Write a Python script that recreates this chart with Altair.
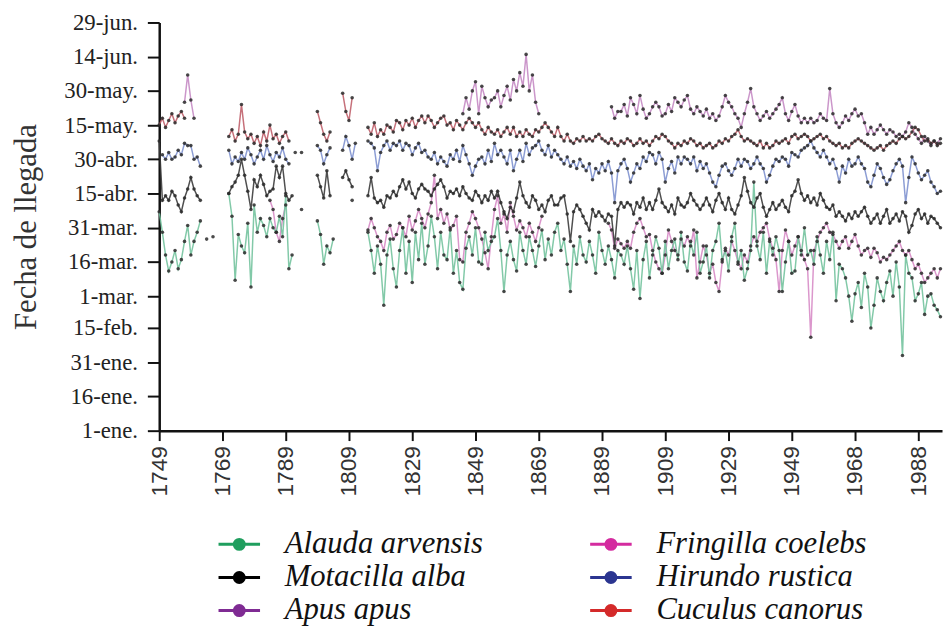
import altair as alt
import pandas as pd

# ---------------- data (day of year of first arrival) ----------------
ORDER = ["Alauda arvensis", "Motacilla alba", "Apus apus",
         "Fringilla coelebs", "Hirundo rustica", "Cuculus canorus"]

alauda = [
    (1749, [97, 88, 78, 71, 75, 80, 72, 76, 84, 91, 78, 84, 88, 93]),
    (1764, [85]),
    (1766, [86]),
    (1771, [105, 95, 67, 87, 82, 79, 92, 64, 100, 88, 94, 91, 86, 94, 90, 88, 95, 86, 104, 72, 78]),
    (1799, [93, 87, 74, 82, 79, 85]),
    (1810, [102]),
    (1815, [88, 80, 70, 82, 74, 56, 78, 85, 72, 64,
            80, 90, 70, 84, 66, 88, 76, 92, 74, 82,
            95, 86, 72, 88, 78, 76, 90, 70, 80, 66,
            63, 81, 86, 78, 90, 75, 74, 88, 80, 84,
            86, 94, 80, 62, 78, 84, 76, 71, 88, 80,
            74, 86, 80, 73, 82, 89, 76, 85, 78, 88,
            92, 80, 85, 74, 62, 82, 74, 86, 78, 75,
            84, 78, 70, 88, 80, 74, 82, 76, 68, 80,
            78, 74, 82, 72, 63, 80, 59, 76, 84, 68,
            78, 86, 81, 70, 84, 72, 80, 85, 76, 88,
            75, 71, 84, 78, 88, 70, 75, 82, 68, 80,
            84, 92, 76, 80, 71, 86, 92, 74, 80, 67,
            72, 80, 110, 82, 76, 88, 70, 84, 78, 86,
            80, 62, 75, 84, 70, 71, 86, 78, 90, 78,
            80, 74, 86, 78, 70, 84, 76, 88, 58, 74,
            72, 68, 60, 49, 61, 66, 55, 70, 64, 46,
            56, 68, 62, 58, 66, 71, 60, 75, 64, 34,
            78, 70, 68, 58, 61, 66, 52, 60, 61, 56, 54, 51]),
]

motacilla = [
    (1749, [128, 102, 104, 102, 106, 104, 100, 97, 103, 107, 112, 107, 104, 102]),
    (1771, [105, 108, 110, 113, 120, 113, 106, 98, 111, 108, 113, 109, 104, 106, 107, 117, 112, 117, 105, 102, 104]),
    (1794, [98]),
    (1799, [113, 108, 103, 115, 104]),
    (1807, [112, 115, 111, 108]),
    (1815, [104, 112, 103, 101, 102, 99, 104, 103, 106, 104,
            108, 111, 107, 110, 105, 103, 107, 109, 107, 106,
            104, 107, 109, 111, 108, 103, 106, 105, 107, 104,
            108, 105, 103, 102, 106, 104, 101, 104, 102, 106,
            103, 106, 101, 97, 94, 99, 97, 103, 110, 104,
            101, 99, 104, 102, 98, 100, 97, 102, 104, 100,
            100, 103, 104, 96, 84, 97, 100, 98, 95, 92,
            89, 98, 95, 97, 95, 93, 96, 95, 82, 98,
            101, 99, 101, 100, 96, 101, 99, 103, 98, 101,
            98, 102, 107, 101, 99, 97, 100, 96, 103, 100,
            99, 101, 105, 102, 100, 98, 100, 103, 100, 97,
            102, 105, 101, 98, 103, 98, 96, 100, 104, 112,
            106, 101, 99, 103, 105, 99, 95, 98, 101, 98,
            100, 102, 99, 97, 104, 106, 111, 105, 102, 104,
            101, 103, 100, 105, 102, 99, 98, 100, 95, 97,
            95, 93, 96, 94, 97, 95, 97, 99, 95, 92,
            94, 96, 92, 95, 98, 92, 94, 96, 93, 97,
            95, 88, 91, 96, 98, 94, 96, 92, 95, 94, 92, 90]),
]

hirundo = [
    (1750, [122, 120, 123, 120, 121, 124, 122, 127, 126, 126, 120, 121, 117]),
    (1771, [124, 118, 121, 119, 123, 120, 125, 122, 118, 121, 124, 120, 126, 122, 119, 123, 121, 125, 120, 118]),
    (1792, [123]),
    (1794, [123]),
    (1799, [126, 124, 118, 122, 125]),
    (1807, [124, 130, 126, 120, 127]),
    (1815, [128, 127, 125, 115, 123, 126, 128, 124, 127, 126,
            128, 124, 127, 126, 122, 125, 127, 123, 124, 121,
            120, 123, 118, 121, 119, 117, 122, 120, 124, 119,
            126, 122, 118, 113, 117, 120, 121, 118, 124, 119,
            127, 122, 124, 121, 118, 124, 115, 120, 124, 119,
            127, 122, 125, 126, 128, 124, 122, 126, 121, 124,
            122, 120, 118, 121, 117, 119, 116, 120, 117, 115,
            118, 111, 116, 114, 118, 115, 119, 114, 101, 115,
            118, 120, 116, 110, 114, 118, 116, 121, 119, 123,
            122, 118, 123, 120, 110, 116, 119, 114, 121, 118,
            121, 120, 118, 121, 115, 119, 116, 118, 114, 110,
            108, 113, 117, 118, 115, 113, 116, 120, 117, 120,
            119, 116, 118, 121, 118, 116, 110, 113, 117, 120,
            119, 121, 120, 117, 123, 122, 121, 124, 125, 126,
            128, 125, 123, 121, 124, 121, 118, 120, 116, 110,
            117, 114, 120, 117, 118, 121, 118, 116, 110, 108,
            113, 118, 116, 112, 109, 111, 115, 118, 120, 117,
            101, 112, 121, 118, 114, 111, 113, 115, 110, 108, 105, 106]),
]

cuculus = [
    (1749, [135, 138, 134, 137, 140, 136, 139, 141, 138]),
    (1771, [130, 133, 128, 131, 144, 132, 129, 131, 127, 130, 126, 132, 128, 135, 129, 131, 127, 130, 132, 128]),
    (1799, [141, 136, 131, 128, 132]),
    (1807, [149, 141, 137, 147]),
    (1815, [134, 131, 136, 130, 133, 131, 135, 134, 132, 137,
            136, 133, 137, 135, 138, 134, 137, 139, 136, 139,
            137, 134, 136, 138, 139, 135, 136, 133, 137, 135,
            133, 136, 138, 136, 134, 136, 133, 131, 134, 132,
            131, 133, 130, 132, 134, 131, 134, 130, 132, 130,
            133, 131, 130, 133, 132, 134, 136, 134, 132, 130,
            134, 130, 128, 131, 128, 127, 129, 128, 130, 128,
            129, 128, 130, 131, 129, 128, 127, 129, 127, 126,
            128, 127, 129, 128, 126, 127, 129, 127, 128, 126,
            128, 130, 129, 131, 130, 128, 127, 125, 127, 126,
            128, 127, 129, 128, 126, 127, 125, 126, 127, 125,
            126, 128, 127, 129, 128, 130, 131, 133, 130, 128,
            129, 128, 127, 126, 128, 125, 127, 125, 126, 128,
            127, 128, 129, 127, 130, 131, 129, 130, 131, 130,
            128, 129, 130, 131, 129, 130, 128, 127, 126, 127,
            125, 126, 125, 127, 128, 129, 128, 127, 126, 125,
            124, 125, 126, 124, 126, 127, 128, 127, 129, 130,
            129, 130, 132, 134, 133, 130, 128, 129, 127, 128, 126, 127]),
]

apus = [
    (1757, [145, 157, 146, 138]),
    (1845, [140, 147, 142, 150, 154, 140, 152, 147, 143, 146,
            147, 150, 143, 148, 152, 146, 155, 150, 158, 152,
            166, 150, 157, 145, 140]),
    (1892, [143, 138, 141,
            141, 144, 139, 147, 144, 140, 148, 142, 138, 140,
            143, 145, 143, 139, 140, 144, 141, 147, 145, 143,
            146, 148, 142, 140, 143, 141, 139, 142, 138, 140,
            137, 139, 143, 148, 145, 143, 140, 138, 134, 140,
            145, 151, 143, 140, 137, 139, 141, 138, 140, 142,
            144, 147, 140, 137, 141, 144, 139, 136, 138, 136,
            138, 136, 137, 140, 138, 137, 151, 140, 136, 134,
            136, 139, 137, 140, 142, 139, 140, 136, 131, 134,
            131, 133, 135, 133, 131, 133, 132, 130, 131, 130,
            132, 136, 134, 131, 129, 127, 130, 128, 126, 128, 127, 129]),
]

fringilla = [
    (1784, [102, 98, 88, 84, 94, 100]),
    (1815, [89, 94, 90, 86, 84, 80, 88, 91, 85, 87,
            92, 90, 86, 95, 89, 93, 98, 94, 90, 96,
            101, 113, 94, 98, 92, 96, 89, 91, 95, 76,
            75, 88, 92, 97, 94, 90, 85, 79, 72, 86,
            98, 104, 92, 96, 88, 101, 95, 89, 93, 90,
            86, 92, 88, 84, 90, 95]),
    (1891, [92, 89, 81, 85, 83, 81,
            84, 81, 88, 92, 94, 90, 86, 87,
            80, 75, 72, 70, 78, 89, 84, 80, 78, 85,
            82, 86, 82, 89, 68, 75, 82, 78, 70, 74,
            66, 62, 75, 81, 78, 84, 80, 75, 72, 78,
            75, 82, 86, 84, 88, 90, 92, 85, 81, 76,
            62, 80, 89, 84, 78, 82, 86, 80, 76, 72,
            42, 80, 84, 88, 90, 92, 88, 87, 84, 81,
            84, 86, 81, 84, 87, 82, 78, 80, 81, 77,
            81, 79, 75, 77, 76, 78, 80, 82, 84, 80,
            78, 80, 76, 72, 74, 70, 66, 68, 70, 72, 68, 72]),
]

Y_TICKS = [1, 16, 31, 46, 60, 75, 90, 105, 120, 135, 150, 165, 180]
Y_LABELS = ["1-ene.", "16-ene.", "31-ene.", "15-feb.", "1-mar.", "16-mar.", "31-mar.",
            "15-abr.", "30-abr.", "15-may.", "30-may.", "14-jun.", "29-jun."]
X_TICKS = [1749, 1769, 1789, 1809, 1829, 1849, 1869, 1889, 1909, 1929, 1949, 1969, 1989]
X_LABELS = ["1749", "1769", "1789", "1809", "1829", "1849", "1869", "1889", "1909",
            "1929", "1949", "1968", "1988"]

# colours in ORDER
LINE_COLORS = ["#74c39e", "#3c3c3c", "#c58bc4", "#d78cc6", "#8092cf", "#c0606c"]
LEGEND_COLORS = ["#1f9e5e", "#000000", "#7f2b93", "#d42b9f", "#2b3590", "#d42a2a"]

SERIF = "Times New Roman, Liberation Serif, DejaVu Serif, serif"

# ---------------- table ----------------
rows = []
seg = 0
for name, segs in [("Apus apus", apus), ("Hirundo rustica", hirundo),
                   ("Fringilla coelebs", fringilla), ("Alauda arvensis", alauda),
                   ("Motacilla alba", motacilla), ("Cuculus canorus", cuculus)]:
    for start, vals in segs:
        seg += 1
        for i, v in enumerate(vals):
            rows.append({"species": name, "year": start + i, "day": v, "seg": seg})
df = pd.DataFrame(rows)

legend_df = pd.DataFrame({"species": ORDER,
                          "col": [i // 3 for i in range(len(ORDER))],
                          "row": [i % 3 for i in range(len(ORDER))]})

y_map = "{" + ",".join(f"'{v}':'{l}'" for v, l in zip(Y_TICKS, Y_LABELS)) + "}"
x_map = "{" + ",".join(f"'{v}':'{l}'" for v, l in zip(X_TICKS, X_LABELS)) + "}"

x_enc = alt.X("year:Q",
              scale=alt.Scale(domain=[1749, 1996.5], nice=False, zero=False),
              axis=alt.Axis(values=X_TICKS, labelExpr=f"{x_map}[datum.value + '']",
                            title=None, grid=False, labelAngle=270, labelAlign="right",
                            labelBaseline="middle", labelFont="Liberation Sans, Arial, sans-serif",
                            labelFontSize=23, labelColor="#333", labelPadding=5,
                            tickSize=10, tickWidth=2, tickColor="#111",
                            domainColor="#111", domainWidth=2.5))
y_enc = alt.Y("day:Q",
              scale=alt.Scale(domain=[1, 180], nice=False, zero=False),
              axis=alt.Axis(values=Y_TICKS, labelExpr=f"{y_map}[datum.value + '']",
                            title="Fecha de llegada", titleFont=SERIF,
                            titleFontSize=31, titleFontWeight="normal", titleColor="#333",
                            titlePadding=22, grid=False, labelFont=SERIF,
                            labelFontSize=23, labelColor="#222", labelPadding=10,
                            tickSize=12, tickWidth=2, tickColor="#111",
                            domainColor="#111", domainWidth=2.5))

base = alt.Chart(df).encode(x=x_enc, y=y_enc)

lines = base.mark_line(strokeWidth=1.5, opacity=0.9).encode(
    color=alt.Color("species:N", scale=alt.Scale(domain=ORDER, range=LINE_COLORS), legend=None),
    detail="seg:N",
)
points = base.mark_circle(size=13, color="#2a2a2a", opacity=0.85).encode(detail="seg:N")

main = alt.layer(lines, points).properties(width=792, height=413)

# ---------------- legend panel ----------------
SYMBOL = "M-1.75,0L1.75,0M-0.42,0A0.42,0.42,0,1,0,0.42,0A0.42,0.42,0,1,0,-0.42,0Z"
lbase = alt.Chart(legend_df).encode(
    x=alt.X("col:Q", scale=alt.Scale(domain=[0, 1], range=[81, 457]), axis=None),
    y=alt.Y("row:Q", scale=alt.Scale(domain=[0, 2], range=[23, 90]), axis=None),
)
sym = lbase.mark_point(shape=SYMBOL, size=576, filled=True, strokeWidth=3, opacity=1).encode(
    fill=alt.Fill("species:N", scale=alt.Scale(domain=ORDER, range=LEGEND_COLORS), legend=None),
    stroke=alt.Stroke("species:N", scale=alt.Scale(domain=ORDER, range=LEGEND_COLORS), legend=None),
)
txt = lbase.mark_text(align="left", baseline="middle", dx=46, font=SERIF, fontStyle="italic",
                      fontSize=31, color="#111").encode(text="species:N")
legend_panel = alt.layer(sym, txt).properties(width=792, height=90)

chart = alt.vconcat(main, legend_panel, spacing=25).resolve_scale(
    x="independent", y="independent"
).properties(
    padding={"left": 2, "top": 0, "right": 0, "bottom": 0},
    background="white",
).configure_view(stroke=None)

chart.save("out.html", embed_options={"renderer": "svg", "actions": False})
